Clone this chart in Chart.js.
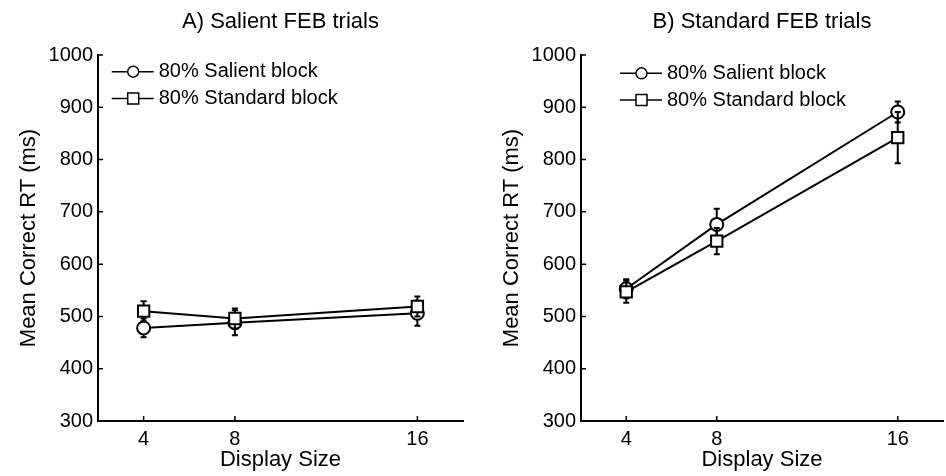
<!DOCTYPE html>
<html>
<head>
<meta charset="utf-8">
<script src="https://cdn.jsdelivr.net/npm/chart.js@4.4.1/dist/chart.umd.min.js"></script>
<style>
  html, body { margin: 0; padding: 0; background: #fff; overflow: hidden; }
  #wrap { position: relative; width: 946px; height: 476px; overflow: hidden; background: #fff; }
  .panel { position: absolute; top: 0; }
  #panelA { left: 0; }
  #panelB { left: 473px; }
</style>
</head>
<body>
<div id="wrap">
  <div class="panel" id="panelA"><canvas id="chartA" width="473" height="476"></canvas></div>
  <div class="panel" id="panelB"><canvas id="chartB" width="480" height="476"></canvas></div>
</div>
<script>
const displaySizes = [4, 8, 16];
const yTicks = [300, 400, 500, 600, 700, 800, 900, 1000];

// A) salient FEB trials
const salientA = [478, 488, 506];
const salientAErr = [18, 24, 24];
const standardA = [510, 496, 519];
const standardAErr = [19, 19, 19];

// B) standard FEB trials
const salientB = [553, 676, 891];
const salientBErr = [18, 30, 20];
const standardB = [547, 644, 842];
const standardBErr = [21, 25, 49];

const FONT = "'Liberation Sans', Arial, sans-serif";
Chart.defaults.font.family = FONT;
Chart.defaults.color = '#000';

// error bars go under the line and markers of their own series
const errorBars = {
    id: 'errorBars',
    beforeDatasetDraw(chart, args) {
        const ds = chart.data.datasets[args.index];
        if (!ds.errors) return;
        const y = chart.scales.y;
        const ctx = chart.ctx;
        ctx.save();
        ctx.strokeStyle = '#000';
        ctx.lineWidth = 2;
        ctx.beginPath();
        args.meta.data.forEach((pt, i) => {
            const v = ds.data[i].y;
            const e = ds.errors[i];
            const top = y.getPixelForValue(v + e);
            const bot = y.getPixelForValue(v - e);
            ctx.moveTo(pt.x, top);
            ctx.lineTo(pt.x, bot);
            ctx.moveTo(pt.x - 3, top);
            ctx.lineTo(pt.x + 3, top);
            ctx.moveTo(pt.x - 3, bot);
            ctx.lineTo(pt.x + 3, bot);
        });
        ctx.stroke();
        ctx.restore();
    }
};

// matlab style ticks pointing into the axes
const inwardTicks = {
    id: 'inwardTicks',
    afterDraw(chart) {
        const {ctx, chartArea: a, scales: {x, y}} = chart;
        ctx.save();
        ctx.strokeStyle = '#000';
        ctx.lineWidth = 1.5;
        ctx.beginPath();
        y.ticks.forEach(t => {
            const py = y.getPixelForValue(t.value);
            ctx.moveTo(a.left, py);
            ctx.lineTo(a.left + 5, py);
        });
        x.ticks.forEach(t => {
            const px = x.getPixelForValue(t.value);
            ctx.moveTo(px, a.bottom);
            ctx.lineTo(px, a.bottom - 5);
        });
        ctx.stroke();
        ctx.restore();
    }
};

// legend with a line running through the marker
const markerLegend = {
    id: 'markerLegend',
    afterDraw(chart, args, opts) {
        const {ctx, chartArea: a} = chart;
        ctx.save();
        chart.data.datasets.forEach((ds, i) => {
            const x0 = a.left + opts.left;
            const yy = a.top + opts.top + i * opts.rowGap;
            ctx.strokeStyle = '#000';
            ctx.lineWidth = 1.5;
            ctx.beginPath();
            ctx.moveTo(x0, yy);
            ctx.lineTo(x0 + 42, yy);
            ctx.stroke();
            const mx = x0 + 21.5;
            ctx.fillStyle = '#fff';
            ctx.beginPath();
            if (ds.pointStyle === 'rect') {
                ctx.rect(mx - 5.5, yy - 5.5, 11, 11);
            } else {
                ctx.arc(mx, yy, 5.5, 0, Math.PI * 2);
            }
            ctx.fill();
            ctx.stroke();
            ctx.fillStyle = '#000';
            ctx.font = '20px ' + FONT;
            ctx.textAlign = 'left';
            ctx.textBaseline = 'middle';
            ctx.fillText(ds.label, x0 + 47, yy);
        });
        ctx.restore();
    }
};

function series(values) {
    return displaySizes.map((x, i) => ({x: x, y: values[i]}));
}

function makePanel(id, title, salient, salientErr, standard, standardErr, cfg) {
    const ctx = document.getElementById(id).getContext('2d');
    return new Chart(ctx, {
        type: 'line',
        data: {
            datasets: [{
                label: '80% Salient block',
                data: series(salient),
                errors: salientErr,
                borderColor: '#000',
                borderWidth: 2,
                pointStyle: 'circle',
                pointRadius: 6.5,
                pointBorderWidth: 2,
                pointBackgroundColor: '#fff',
                pointBorderColor: '#000',
                order: 2
            }, {
                label: '80% Standard block',
                data: series(standard),
                errors: standardErr,
                borderColor: '#000',
                borderWidth: 2,
                pointStyle: 'rect',
                pointRadius: 8,
                pointBorderWidth: 2,
                pointBackgroundColor: '#fff',
                pointBorderColor: '#000',
                order: 1
            }]
        },
        options: {
            responsive: false,
            animation: false,
            events: [],
            layout: {padding: {left: 0, right: cfg.padRight, top: 0, bottom: 0}},
            scales: {
                x: {
                    type: 'linear',
                    min: 2,
                    max: 18,
                    afterBuildTicks: s => { s.ticks = displaySizes.map(v => ({value: v})); },
                    afterFit: s => { s.height = 55; },
                    grid: {display: false, drawTicks: false},
                    border: {display: true, color: '#000', width: 2},
                    ticks: {color: '#000', font: {size: 20}, padding: 6, autoSkip: false, maxRotation: 0,
                        callback: v => String(v)},
                    title: {
                        display: true,
                        text: 'Display Size',
                        color: '#000',
                        font: {size: 22},
                        padding: {top: 0, bottom: 3}
                    }
                },
                y: {
                    min: 300,
                    max: 1000,
                    afterBuildTicks: s => { s.ticks = yTicks.map(v => ({value: v})); },
                    afterFit: s => { s.width = cfg.axisLeft; },
                    grid: {display: false, drawTicks: false},
                    border: {display: true, color: '#000', width: 2},
                    ticks: {color: '#000', font: {size: 20}, padding: 5, callback: v => String(v)},
                    title: {
                        display: true,
                        text: 'Mean Correct RT (ms)',
                        color: '#000',
                        font: {size: 22},
                        padding: {top: cfg.yTitlePad, bottom: 0}
                    }
                }
            },
            plugins: {
                legend: {display: false},
                tooltip: {enabled: false},
                title: {
                    display: true,
                    text: title,
                    color: '#000',
                    fullSize: false,
                    font: {size: 22, weight: 'normal'},
                    padding: {top: 9, bottom: 19.6}
                },
                markerLegend: {left: cfg.legendLeft, top: cfg.legendTop, rowGap: 26.7}
            }
        },
        plugins: [errorBars, inwardTicks, markerLegend]
    });
}

makePanel('chartA', 'A) Salient FEB trials', salientA, salientAErr, standardA, standardAErr,
    {axisLeft: 98, padRight: 9, yTitlePad: 16, legendLeft: 13.7, legendTop: 16.7});
makePanel('chartB', 'B) Standard FEB trials', salientB, salientBErr, standardB, standardBErr,
    {axisLeft: 108, padRight: 6, yTitlePad: 26, legendLeft: 39, legendTop: 18.3});
</script>
</body>
</html>
